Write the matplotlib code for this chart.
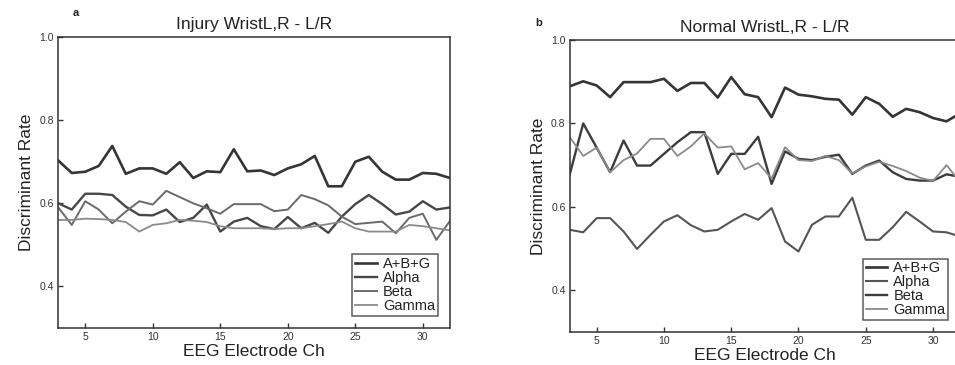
import numpy as np
import matplotlib
matplotlib.use('Agg')
import matplotlib.pyplot as plt

plt.rcParams['font.family'] = ['Liberation Sans', 'DejaVu Sans']

# EEG channels 3..32
channels = np.arange(3, 33)

# --- panel a: injury wrist ---
abg_injury = [0.703, 0.673, 0.676, 0.690, 0.738, 0.671, 0.684, 0.684, 0.671, 0.699,
              0.661, 0.677, 0.675, 0.730, 0.677, 0.679, 0.668, 0.684, 0.694, 0.714,
              0.641, 0.641, 0.700, 0.712, 0.676, 0.657, 0.657, 0.673, 0.671, 0.661]
alpha_injury = [0.600, 0.585, 0.623, 0.623, 0.620, 0.592, 0.572, 0.571, 0.585, 0.555,
                0.565, 0.597, 0.532, 0.556, 0.565, 0.545, 0.538, 0.567, 0.540, 0.553,
                0.529, 0.568, 0.598, 0.620, 0.598, 0.573, 0.580, 0.605, 0.585, 0.590]
beta_injury = [0.590, 0.548, 0.605, 0.585, 0.552, 0.580, 0.605, 0.597, 0.630, 0.615,
               0.600, 0.588, 0.575, 0.598, 0.598, 0.598, 0.581, 0.585, 0.620, 0.610,
               0.595, 0.568, 0.550, 0.553, 0.556, 0.528, 0.565, 0.575, 0.512, 0.557]
gamma_injury = [0.560, 0.560, 0.563, 0.562, 0.560, 0.555, 0.532, 0.548, 0.552, 0.560,
                0.558, 0.555, 0.545, 0.540, 0.540, 0.540, 0.538, 0.540, 0.540, 0.545,
                0.550, 0.556, 0.540, 0.532, 0.532, 0.532, 0.548, 0.545, 0.540, 0.535]

# --- panel b: normal wrist ---
abg_normal = [0.889, 0.901, 0.891, 0.863, 0.899, 0.899, 0.899, 0.907, 0.878, 0.897,
              0.897, 0.862, 0.911, 0.870, 0.863, 0.815, 0.886, 0.869, 0.865, 0.859,
              0.857, 0.821, 0.863, 0.847, 0.816, 0.835, 0.827, 0.813, 0.805, 0.824]
alpha_normal = [0.545, 0.539, 0.573, 0.573, 0.541, 0.499, 0.533, 0.565, 0.580, 0.556,
                0.541, 0.545, 0.565, 0.583, 0.569, 0.597, 0.517, 0.493, 0.557, 0.577,
                0.577, 0.622, 0.521, 0.521, 0.551, 0.588, 0.565, 0.541, 0.539, 0.529]
beta_normal = [0.678, 0.800, 0.742, 0.683, 0.759, 0.699, 0.699, 0.727, 0.755, 0.779,
               0.779, 0.679, 0.727, 0.727, 0.768, 0.655, 0.733, 0.715, 0.712, 0.720,
               0.725, 0.679, 0.699, 0.711, 0.683, 0.667, 0.663, 0.663, 0.678, 0.672]
gamma_normal = [0.767, 0.722, 0.742, 0.683, 0.712, 0.728, 0.763, 0.763, 0.722, 0.745,
                0.776, 0.742, 0.745, 0.690, 0.705, 0.668, 0.743, 0.712, 0.710, 0.722,
                0.712, 0.680, 0.697, 0.708, 0.698, 0.686, 0.670, 0.662, 0.700, 0.660]

labels = ['A+B+G', 'Alpha', 'Beta', 'Gamma']

fig = plt.figure(figsize=(9.55, 3.65), dpi=100, facecolor='white')
ax_a = fig.add_axes([0.061, 0.1014, 0.410, 0.797])
ax_b = fig.add_axes([0.5966, 0.0904, 0.4086, 0.800])


def style_axis(ax, title):
    ax.set_xlim(3, 32)
    ax.set_ylim(0.3, 1.0)
    ax.set_xticks([5, 10, 15, 20, 25, 30])
    ax.set_yticks([0.4, 0.6, 0.8, 1.0])
    ax.set_yticklabels(['0.4', '0.6', '0.8', '1.0'])
    ax.tick_params(direction='in', length=3.5, width=1.0, labelsize=7.5,
                   colors='#333333', pad=3)
    for s in ax.spines.values():
        s.set_color('#333333')
        s.set_linewidth(1.1)
    ax.set_title(title, fontsize=12.5, color='#222222', pad=6)
    ax.set_xlabel('EEG Electrode Ch', fontsize=12.5, color='#222222', labelpad=1)
    ax.set_ylabel('Discriminant Rate', fontsize=12.5, color='#222222', labelpad=4)


# panel a
ax_a.plot(channels, abg_injury, color='#353535', lw=1.9, label=labels[0])
ax_a.plot(channels, alpha_injury, color='#474747', lw=1.7, label=labels[1])
ax_a.plot(channels, beta_injury, color='#6a6a6a', lw=1.4, label=labels[2])
ax_a.plot(channels, gamma_injury, color='#8a8a8a', lw=1.3, label=labels[3])
style_axis(ax_a, 'Injury WristL,R - L/R')

# panel b
ax_b.plot(channels, abg_normal, color='#353535', lw=1.9, label=labels[0])
ax_b.plot(channels, alpha_normal, color='#555555', lw=1.5, label=labels[1])
ax_b.plot(channels, beta_normal, color='#3c3c3c', lw=1.7, label=labels[2])
ax_b.plot(channels, gamma_normal, color='#8a8a8a', lw=1.3, label=labels[3])
style_axis(ax_b, 'Normal WristL,R - L/R')

for ax in (ax_a, ax_b):
    leg = ax.legend(loc='lower right', fontsize=10.5, frameon=True, fancybox=False,
                    handlelength=1.5, handletextpad=0.4, borderpad=0.2,
                    labelspacing=0.0, borderaxespad=0.8)
    leg.get_frame().set_edgecolor('#333333')
    leg.get_frame().set_linewidth(1.1)
    for t in leg.get_texts():
        t.set_color('#222222')

fig.text(0.076, 0.955, 'a', fontsize=8, fontweight='bold', color='#222222')
fig.text(0.561, 0.928, 'b', fontsize=8, fontweight='bold', color='#222222')

fig.savefig('out.png', dpi=100, facecolor='white')
